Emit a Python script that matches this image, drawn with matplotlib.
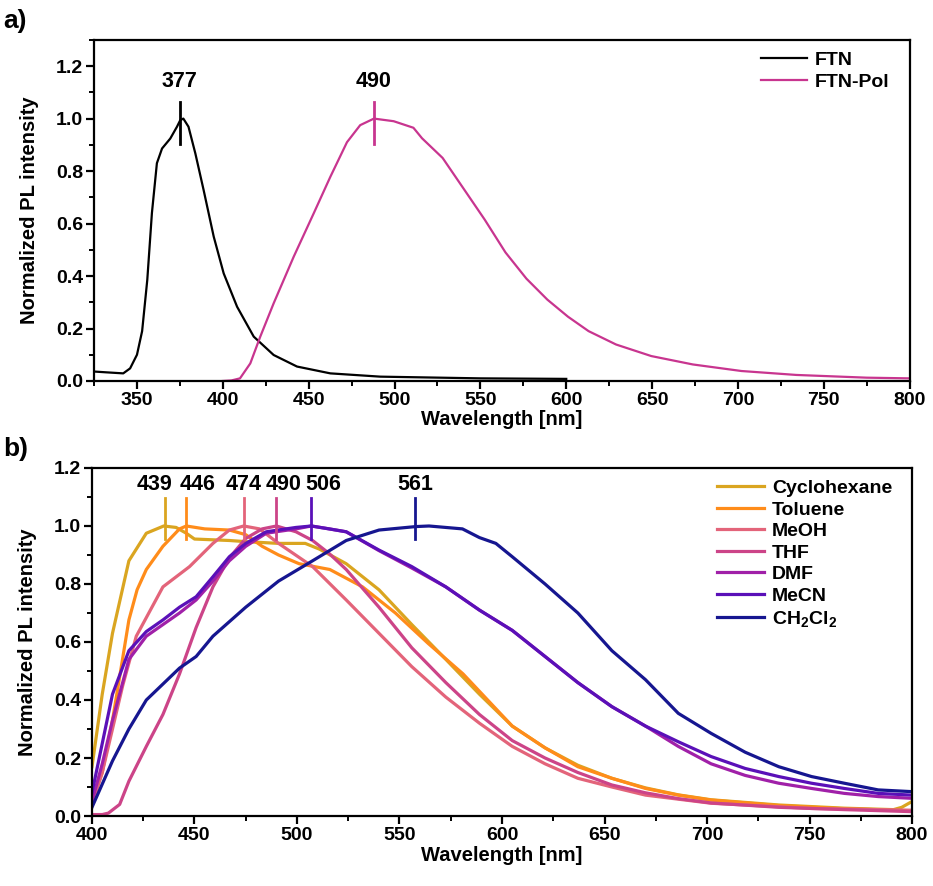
import matplotlib
matplotlib.use('Agg')
import matplotlib.pyplot as plt
from matplotlib.ticker import MultipleLocator

plt.rcParams['font.family'] = ['Liberation Sans', 'DejaVu Sans']
plt.rcParams['font.weight'] = 'bold'
plt.rcParams['mathtext.fontset'] = 'custom'
plt.rcParams['mathtext.rm'] = 'Liberation Sans:bold'
plt.rcParams['mathtext.it'] = 'Liberation Sans:bold'
plt.rcParams['mathtext.default'] = 'rm'

# ---- panel a data ----
ftn_wl = [325, 332, 342, 346, 350, 353, 356, 358.7, 361.6, 364.6, 369.4, 373.3, 375.2, 377,
          380, 384, 388.8, 394.7, 400.5, 408.3, 418, 429.6, 443.2, 462.6, 491.7, 550, 600]
ftn_y = [0.036, 0.033, 0.029, 0.048, 0.10, 0.19, 0.385, 0.64, 0.83, 0.886, 0.924, 0.969, 0.994, 1.0,
         0.969, 0.867, 0.728, 0.55, 0.41, 0.283, 0.169, 0.099, 0.055, 0.029, 0.0165, 0.010, 0.008]

pol_wl = [400, 405, 410, 416, 421.8, 429.6, 441.3, 453, 462.6, 472.3, 480, 488, 499.5, 511, 516,
          528, 540, 552.5, 564.6, 576.8, 589, 601, 613, 629, 649.5, 673.7, 702, 734, 775, 800]
pol_y = [0.0, 0.002, 0.01, 0.067, 0.169, 0.296, 0.474, 0.64, 0.778, 0.91, 0.975, 1.0, 0.99, 0.965, 0.925,
         0.85, 0.735, 0.615, 0.49, 0.39, 0.31, 0.245, 0.19, 0.139, 0.095, 0.063, 0.038, 0.023, 0.0126, 0.01]

a_names = ["FTN", "FTN-Pol"]
a_colors = ["black", "#C8358F"]
a_peaks = [375, 488]
a_peak_labels = ["377", "490"]

# ---- panel b data ----
cyc_wl = [400, 405, 410, 418, 426.5, 435, 441, 446, 450, 467, 475, 491, 504, 511, 524, 540, 556,
          572.6, 589, 605, 621, 637, 653.6, 670, 686, 702, 735, 767, 791, 795, 800]
cyc_y = [0.17, 0.42, 0.63, 0.88, 0.975, 1.0, 0.995, 0.975, 0.955, 0.95, 0.946, 0.94, 0.94, 0.92, 0.87,
         0.78, 0.66, 0.54, 0.42, 0.31, 0.235, 0.175, 0.13, 0.097, 0.073, 0.056, 0.038, 0.027, 0.022, 0.03, 0.05]

tol_wl = [400, 405, 410, 413.5, 418, 422, 426.5, 434.6, 442.7, 446, 455, 467, 475, 483, 491, 501, 516,
          532, 548, 564, 581, 589, 605, 621, 637, 653.6, 670, 686, 702, 735, 767, 800]
tol_y = [0.05, 0.15, 0.33, 0.48, 0.676, 0.78, 0.85, 0.93, 0.99, 1.0, 0.99, 0.986, 0.97, 0.93, 0.90, 0.87,
         0.85, 0.79, 0.70, 0.595, 0.49, 0.43, 0.31, 0.235, 0.17, 0.13, 0.095, 0.072, 0.055, 0.036, 0.025, 0.018]

meoh_wl = [400, 405, 410, 415, 421.6, 434.6, 447.6, 459, 467, 474, 481.7, 491, 507.6, 524, 540, 556,
           572.6, 589, 605, 621, 637, 653.6, 670, 702, 751, 800]
meoh_y = [0.04, 0.15, 0.3, 0.45, 0.62, 0.79, 0.86, 0.94, 0.986, 1.0, 0.99, 0.94, 0.86, 0.745, 0.63, 0.515,
          0.41, 0.32, 0.24, 0.18, 0.13, 0.10, 0.072, 0.044, 0.026, 0.02]

thf_wl = [400, 405, 408, 413.5, 418, 426.5, 434.6, 442.7, 450.8, 459, 467, 475, 483, 490, 499.5, 507.6,
          515.7, 524, 540, 556, 572.6, 589, 605, 621, 637, 653.6, 670, 686, 702, 735, 767, 800]
thf_y = [0.005, 0.005, 0.01, 0.04, 0.12, 0.24, 0.35, 0.49, 0.65, 0.79, 0.89, 0.957, 0.99, 1.0, 0.98, 0.95,
         0.905, 0.85, 0.72, 0.58, 0.46, 0.35, 0.26, 0.2, 0.15, 0.107, 0.08, 0.06, 0.045, 0.03, 0.022, 0.015]

dmf_wl = [400, 405, 410, 418, 426.5, 434.6, 442.7, 450.8, 459, 467, 475, 485, 499.5, 507, 515.7, 524,
          540, 556, 572.6, 589, 605, 621, 637, 653.6, 670, 686, 702, 718.6, 735, 751, 767, 783.5, 800]
dmf_y = [0.05, 0.18, 0.33, 0.54, 0.62, 0.66, 0.70, 0.745, 0.81, 0.88, 0.93, 0.975, 0.99, 1.0, 0.99, 0.98,
         0.915, 0.855, 0.79, 0.71, 0.64, 0.55, 0.46, 0.377, 0.31, 0.24, 0.18, 0.14, 0.113, 0.095, 0.078, 0.067, 0.061]

mecn_wl = [400, 405, 410, 418, 426.5, 434.6, 442.7, 450.8, 459, 467, 475, 485, 499.5, 507, 515.7, 524,
           540, 556, 572.6, 589, 605, 621, 637, 653.6, 670, 686, 702, 718.6, 735, 751, 767, 783.5, 800]
mecn_y = [0.08, 0.25, 0.42, 0.57, 0.636, 0.676, 0.72, 0.756, 0.825, 0.894, 0.94, 0.98, 0.995, 1.0, 0.99, 0.98,
          0.917, 0.86, 0.79, 0.71, 0.64, 0.55, 0.46, 0.377, 0.31, 0.256, 0.205, 0.164, 0.136, 0.113, 0.095, 0.078, 0.072]

dcm_wl = [400, 410, 418, 426.5, 442.7, 450.8, 459, 475, 491, 507.6, 524, 540, 558, 564.4, 580.7, 589,
          597, 605, 621, 637, 653.6, 670, 686, 702, 718.6, 735, 751, 767, 783.5, 800]
dcm_y = [0.03, 0.19, 0.30, 0.40, 0.51, 0.55, 0.62, 0.72, 0.81, 0.88, 0.95, 0.986, 0.998, 1.0, 0.99, 0.96,
         0.94, 0.894, 0.80, 0.70, 0.57, 0.47, 0.354, 0.285, 0.22, 0.17, 0.136, 0.113, 0.09, 0.084]

b_names = ["Cyclohexane", "Toluene", "MeOH", "THF", "DMF", "MeCN", "CH$_2$Cl$_2$"]
b_colors = ["#DAA520", "#FF8C1A", "#E3647A", "#CC4488", "#A020A8", "#5A10B8", "#161690"]
b_wl = [cyc_wl, tol_wl, meoh_wl, thf_wl, dmf_wl, mecn_wl, dcm_wl]
b_y = [cyc_y, tol_y, meoh_y, thf_y, dmf_y, mecn_y, dcm_y]
b_peaks = [435.5, 446, 474, 490, 507, 557.5]
b_peak_colors = ["#DAA520", "#FF8C1A", "#E3647A", "#CC4488", "#5A10B8", "#161690"]
b_peak_labels = ["439", "446", "474", "490", "506", "561"]
b_label_x = [430.5, 451.5, 474, 493.5, 513, 557.5]


def style_axes(ax):
    for s in ax.spines.values():
        s.set_linewidth(1.6)
    ax.tick_params(which='major', direction='out', length=6, width=1.6, labelsize=14,
                   pad=2, top=False, right=False)
    ax.tick_params(which='minor', direction='out', length=3.5, width=1.4, top=False, right=False)
    for lab in ax.get_xticklabels() + ax.get_yticklabels():
        lab.set_fontweight('bold')
    ax.set_xlabel("Wavelength [nm]", fontsize=14.5, fontweight='bold', labelpad=1)
    ax.set_ylabel("Normalized PL intensity", fontsize=14.5, fontweight='bold', labelpad=12)


fig = plt.figure(figsize=(9.33, 8.86), dpi=100)

# ---- panel a ----
ax1 = fig.add_axes([0.1008, 0.570, 0.8742, 0.385])
ax1.plot(ftn_wl, ftn_y, color=a_colors[0], lw=1.6, label=a_names[0])
ax1.plot(pol_wl, pol_y, color=a_colors[1], lw=1.6, label=a_names[1])
for p, lab, c in zip(a_peaks, a_peak_labels, a_colors):
    ax1.plot([p, p], [0.905, 1.065], color=c, lw=2)
    ax1.text(p, 1.14, lab, ha='center', va='center', fontsize=15.5, fontweight='bold')
ax1.set_xlim(325, 800)
ax1.set_ylim(0, 1.3)
ax1.xaxis.set_major_locator(MultipleLocator(50))
ax1.xaxis.set_minor_locator(MultipleLocator(25))
ax1.yaxis.set_minor_locator(MultipleLocator(0.1))
ax1.set_yticks([0.0, 0.2, 0.4, 0.6, 0.8, 1.0, 1.2])
style_axes(ax1)
ax1.legend(loc='upper right', frameon=False, handlelength=2.4, handletextpad=0.4,
           labelspacing=0.2, borderaxespad=0.2, bbox_to_anchor=(0.99, 1.0),
           prop={'weight': 'bold', 'size': 14})
fig.text(0.004, 0.976, "a)", fontsize=19, fontweight='bold', va='center', ha='left')

# ---- panel b ----
ax2 = fig.add_axes([0.0986, 0.079, 0.8789, 0.3928])
for wl, y, name, c in zip(b_wl, b_y, b_names, b_colors):
    ax2.plot(wl, y, color=c, lw=2.3, label=name)
for p, c in zip(b_peaks, b_peak_colors):
    ax2.plot([p, p], [0.955, 1.095], color=c, lw=2)
for x, lab in zip(b_label_x, b_peak_labels):
    ax2.text(x, 1.142, lab, ha='center', va='center', fontsize=15.5, fontweight='bold')
ax2.set_xlim(400, 800)
ax2.set_ylim(0, 1.2)
ax2.xaxis.set_major_locator(MultipleLocator(50))
ax2.xaxis.set_minor_locator(MultipleLocator(25))
ax2.yaxis.set_major_locator(MultipleLocator(0.2))
ax2.yaxis.set_minor_locator(MultipleLocator(0.1))
style_axes(ax2)
ax2.legend(loc='upper right', frameon=False, handlelength=2.4, handletextpad=0.4,
           labelspacing=0.2, borderaxespad=0.2, bbox_to_anchor=(0.99, 1.0),
           prop={'weight': 'bold', 'size': 14})
fig.text(0.004, 0.493, "b)", fontsize=19, fontweight='bold', va='center', ha='left')

fig.savefig('out.png', dpi=100)
